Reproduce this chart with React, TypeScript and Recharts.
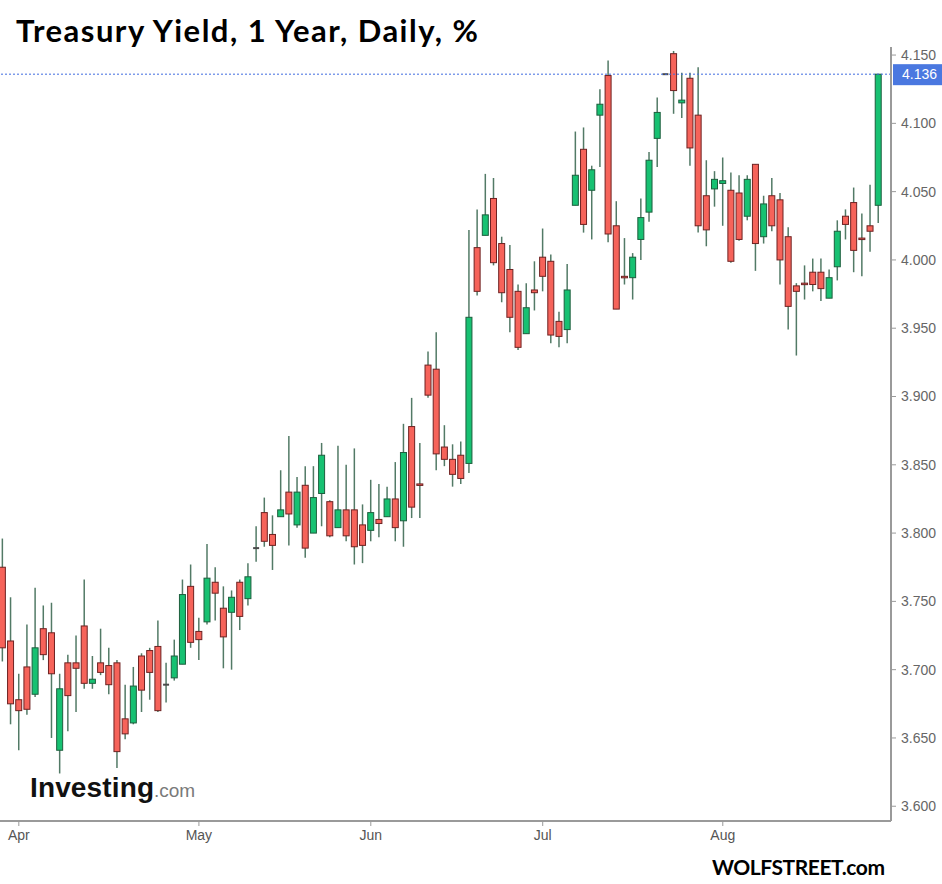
import { ComposedChart, Bar, XAxis, YAxis, ReferenceLine } from 'recharts';

// daily candles, late March to late August (index 1 = first visible session)
const opens = [
  3.775, 3.721, 3.678, 3.702, 3.682, 3.730, 3.727, 3.641, 3.705, 3.705,
  3.732, 3.690, 3.705, 3.703, 3.705, 3.664, 3.661, 3.710, 3.714, 3.717,
  3.689, 3.694, 3.704, 3.761, 3.728, 3.735, 3.764, 3.745, 3.742, 3.764,
  3.752, 3.789, 3.815, 3.799, 3.812, 3.830, 3.806, 3.835, 3.800, 3.829,
  3.823, 3.804, 3.817, 3.817, 3.806, 3.802, 3.810, 3.812, 3.825, 3.809,
  3.878, 3.836, 3.923, 3.920, 3.863, 3.854, 3.857, 3.851, 4.009, 4.018,
  4.045, 4.012, 3.993, 3.977, 3.946, 3.978, 4.002, 3.999, 3.955, 3.949,
  4.040, 4.081, 4.051, 4.106, 4.135, 4.025, 3.988, 3.987, 4.015, 4.035,
  4.089, 4.136, 4.151, 4.115, 4.133, 4.106, 4.047, 4.052, 4.056, 4.051,
  4.049, 4.032, 4.070, 4.017, 4.047, 4.044, 4.017, 3.981, 3.983, 3.991,
  3.991, 3.972, 3.995, 4.032, 4.042, 4.016, 4.025, 4.040,
];
const highs = [
  3.796, 3.753, 3.697, 3.733, 3.760, 3.747, 3.749, 3.697, 3.711, 3.725,
  3.766, 3.710, 3.730, 3.716, 3.707, 3.689, 3.702, 3.712, 3.716, 3.736,
  3.705, 3.722, 3.766, 3.777, 3.738, 3.792, 3.775, 3.761, 3.758, 3.766,
  3.778, 3.805, 3.826, 3.813, 3.846, 3.871, 3.841, 3.849, 3.849, 3.866,
  3.824, 3.864, 3.850, 3.862, 3.821, 3.839, 3.836, 3.834, 3.852, 3.880,
  3.899, 3.866, 3.933, 3.947, 3.879, 3.865, 3.867, 4.022, 4.037, 4.063,
  4.060, 4.017, 4.011, 3.982, 3.983, 3.999, 4.023, 4.004, 3.962, 3.997,
  4.094, 4.097, 4.069, 4.125, 4.146, 4.043, 4.016, 4.005, 4.045, 4.079,
  4.119, 4.136, 4.153, 4.137, 4.137, 4.141, 4.073, 4.065, 4.075, 4.064,
  4.062, 4.062, 4.070, 4.047, 4.060, 4.049, 4.024, 3.983, 3.996, 4.001,
  4.001, 3.993, 4.029, 4.037, 4.053, 4.034, 4.055, 4.136,
];
const lows = [
  3.706, 3.660, 3.641, 3.667, 3.680, 3.707, 3.650, 3.624, 3.655, 3.669,
  3.686, 3.686, 3.696, 3.682, 3.628, 3.649, 3.660, 3.669, 3.678, 3.669,
  3.676, 3.692, 3.704, 3.716, 3.707, 3.733, 3.736, 3.701, 3.700, 3.729,
  3.747, 3.779, 3.790, 3.773, 3.812, 3.791, 3.804, 3.782, 3.800, 3.805,
  3.797, 3.804, 3.794, 3.777, 3.778, 3.794, 3.797, 3.812, 3.794, 3.790,
  3.811, 3.811, 3.899, 3.846, 3.849, 3.834, 3.836, 3.844, 3.974, 4.018,
  3.996, 3.969, 3.947, 3.934, 3.946, 3.963, 3.977, 3.939, 3.936, 3.939,
  4.040, 4.020, 4.015, 4.068, 4.013, 3.964, 3.982, 3.971, 4.000, 4.028,
  4.068, 4.136, 4.107, 4.104, 4.069, 4.020, 4.010, 4.039, 4.025, 3.998,
  4.014, 4.029, 3.992, 4.012, 4.021, 3.982, 3.949, 3.930, 3.971, 3.977,
  3.970, 3.972, 3.985, 4.015, 3.991, 3.988, 4.006, 4.027,
];
const closes = [
  3.716, 3.675, 3.670, 3.671, 3.716, 3.711, 3.697, 3.686, 3.681, 3.701,
  3.690, 3.693, 3.698, 3.689, 3.640, 3.653, 3.688, 3.685, 3.698, 3.670,
  3.689, 3.710, 3.755, 3.720, 3.722, 3.767, 3.756, 3.724, 3.753, 3.739,
  3.768, 3.789, 3.794, 3.791, 3.817, 3.814, 3.830, 3.789, 3.826, 3.857,
  3.798, 3.817, 3.798, 3.790, 3.791, 3.815, 3.807, 3.825, 3.804, 3.859,
  3.819, 3.835, 3.901, 3.858, 3.854, 3.843, 3.840, 3.958, 3.977, 4.033,
  3.998, 3.976, 3.958, 3.936, 3.965, 3.976, 3.988, 3.945, 3.944, 3.978,
  4.062, 4.026, 4.066, 4.114, 4.019, 3.964, 3.987, 4.002, 4.031, 4.073,
  4.108, 4.136, 4.124, 4.117, 4.082, 4.025, 4.022, 4.059, 4.058, 3.999,
  4.015, 4.059, 4.012, 4.041, 4.025, 4.000, 3.966, 3.977, 3.982, 3.982,
  3.979, 3.987, 4.021, 4.026, 4.007, 4.015, 4.021, 4.136,
];

const monthTickIdx = [3, 25, 46, 67, 89];
const monthLabels = ['Apr', 'May', 'Jun', 'Jul', 'Aug'];
const yTicks = [3.6, 3.65, 3.7, 3.75, 3.8, 3.85, 3.9, 3.95, 4.0, 4.05, 4.1, 4.15];
const lastPrice = 4.136;

const data = opens.map((o, i) => ({
  idx: i + 1,
  open: o,
  high: highs[i],
  low: lows[i],
  close: closes[i],
}));

const UP_FILL = '#17c172';
const UP_STROKE = '#1d5e3d';
const DOWN_FILL = '#f6635a';
const DOWN_STROKE = '#6e2222';
const WICK = '#527a66';

function Candle(props: any) {
  const { x, y, width, height, payload } = props;
  if (!payload) return null;
  const { open, close, high, low } = payload;
  const cx = x + width / 2;
  const h = Math.abs(height || 0);
  const top = height >= 0 ? y : y + height;
  const span = high - low;
  const toY = (v: number) => (span === 0 ? top : top + ((high - v) / span) * h);
  const bw = 6;

  if (open === close) {
    const yy = toY(open);
    return (
      <g>
        {span > 0 && <line x1={cx} x2={cx} y1={top} y2={top + h} stroke={WICK} strokeWidth={1.5} />}
        <line x1={cx - bw / 2} x2={cx + bw / 2} y1={yy} y2={yy} stroke="#4a4a4a" strokeWidth={2} />
      </g>
    );
  }

  const up = close > open;
  const bTop = toY(Math.max(open, close));
  const bBot = toY(Math.min(open, close));
  return (
    <g>
      <line x1={cx} x2={cx} y1={top} y2={top + h} stroke={WICK} strokeWidth={1.5} />
      <rect
        x={cx - bw / 2}
        y={bTop}
        width={bw}
        height={Math.max(bBot - bTop, 1.5)}
        fill={up ? UP_FILL : DOWN_FILL}
        stroke={up ? UP_STROKE : DOWN_STROKE}
        strokeWidth={1}
      />
    </g>
  );
}

function PriceTag(props: any) {
  const vb = props.viewBox || {};
  const left = (vb.x || 0) + (vb.width || 0) + 2;
  const cy = vb.y || 0;
  return (
    <g>
      <rect x={left} y={cy - 10} width={52} height={21} fill="#4a78e0" />
      <text x={left + 9} y={cy + 5} fill="#fff" fontSize={14} fontFamily="Liberation Sans, Arial, sans-serif">
        {lastPrice.toFixed(3)}
      </text>
    </g>
  );
}

export default function App() {
  return (
    <div style={{ position: 'relative', width: 942, height: 884, background: '#fff' }}>
      <style>{'body{margin:0;background:#fff}'}</style>
      <ComposedChart
        width={942}
        height={884}
        data={data}
        margin={{ top: 47, right: 0, bottom: 33, left: 0 }}
      >
        <XAxis
          dataKey="idx"
          type="number"
          domain={[0.7, 109.55]}
          allowDataOverflow
          ticks={monthTickIdx}
          tickFormatter={(v: number) => monthLabels[monthTickIdx.indexOf(v)] ?? ''}
          height={30}
          axisLine={{ stroke: '#9a9a9a', strokeWidth: 2 }}
          tickLine={{ stroke: '#9a9a9a' }}
          tickSize={5}
          tickMargin={4}
          tick={{ fill: '#555', fontSize: 14, fontFamily: 'Liberation Sans, Arial, sans-serif' }}
        />
        <YAxis
          orientation="right"
          type="number"
          domain={[3.5892, 4.1559]}
          allowDataOverflow
          ticks={yTicks}
          tickFormatter={(v: number) => v.toFixed(3)}
          width={51}
          axisLine={{ stroke: '#9a9a9a', strokeWidth: 2 }}
          tickLine={{ stroke: '#9a9a9a' }}
          tickSize={5}
          tickMargin={5}
          tick={{ fill: '#666', fontSize: 14, fontFamily: 'Liberation Sans, Arial, sans-serif' }}
        />
        <ReferenceLine
          y={lastPrice}
          stroke="#3f6be0"
          strokeDasharray="2 2"
          strokeWidth={1}
          label={(p: any) => <PriceTag {...p} />}
        />
        <Bar
          dataKey={(d: any) => [d.low, d.high]}
          barSize={6}
          shape={(p: any) => <Candle {...p} />}
          isAnimationActive={false}
        />
      </ComposedChart>
      <svg
        width={942}
        height={884}
        style={{ position: 'absolute', left: 0, top: 0, pointerEvents: 'none' }}
      >
        <text x={16} y={42} fontFamily="Lato, sans-serif" fontWeight={700} fontSize={31} fill="#000" textLength={462}>
          Treasury Yield, 1 Year, Daily, %
        </text>
        <text x={30} y={797} fontFamily="Liberation Sans, Arial, sans-serif" fontWeight={700} fontSize={28} letterSpacing={-1} fill="#111" textLength={123}>
          Investing
        </text>
        <text x={154} y={797} fontFamily="Liberation Sans, Arial, sans-serif" fontSize={19} fill="#7a7a7a" textLength={41}>
          .com
        </text>
        <text x={712} y={875} fontFamily="Lato, sans-serif" fontWeight={700} fontSize={21} fill="#000" textLength={173}>
          WOLFSTREET.com
        </text>
      </svg>
    </div>
  );
}
